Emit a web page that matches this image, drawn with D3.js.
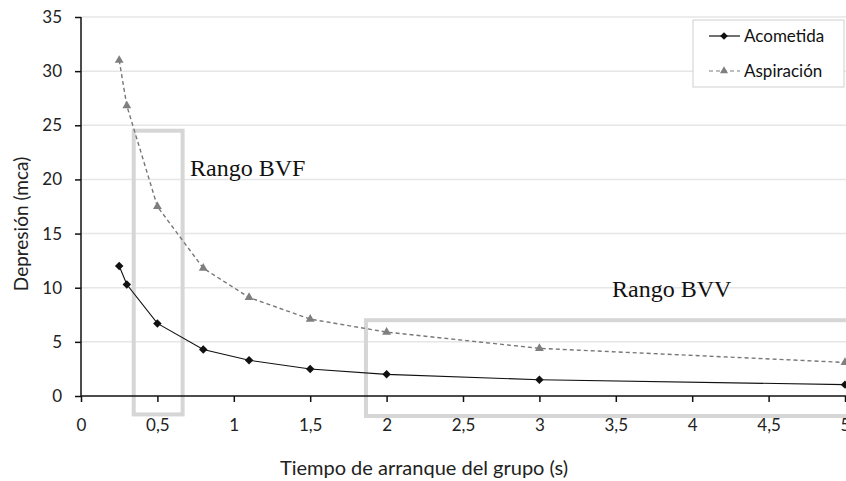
<!DOCTYPE html>
<html>
<head>
<meta charset="utf-8">
<script src="https://cdn.jsdelivr.net/npm/d3@7"></script>
<style>
  body { margin: 0; background: #fff; }
  svg text { font-family: Lato, "Open Sans", sans-serif; }
</style>
</head>
<body>
<div id="chart"></div>
<script>
var tiempo = [0.25, 0.3, 0.5, 0.8, 1.1, 1.5, 2, 3, 5]
var acometida = [12, 10.3, 6.7, 4.3, 3.3, 2.5, 2.0, 1.5, 1.05]
var aspiracion = [31, 26.8, 17.5, 11.8, 9.1, 7.1, 5.9, 4.4, 3.1]
var xTicks = [0, 0.5, 1, 1.5, 2, 2.5, 3, 3.5, 4, 4.5, 5]
var yTicks = [0, 5, 10, 15, 20, 25, 30, 35]
var seriesNames = ['Acometida', 'Aspiración']

var width = 846,
    height = 481
var x0 = 81, x1 = 845, y0 = 396, y1 = 17

var svg = d3.select('#chart').append('svg')
    .attr('width', width)
    .attr('height', height)

var x = d3.scaleLinear().domain([0, 5]).range([x0, x1])
var y = d3.scaleLinear().domain([0, 35]).range([y0, y1])
var fmt = function(d) { return String(d).replace('.', ',') }
var diamond = {
    draw: function(ctx, size) {
        var r = Math.sqrt(size / 2)
        ctx.moveTo(0, -r); ctx.lineTo(r, 0); ctx.lineTo(0, r); ctx.lineTo(-r, 0); ctx.closePath()
    }
}

// grid
svg.append('g').selectAll('line')
    .data(yTicks.slice(1))
    .enter().append('line')
    .attr('x1', x0).attr('x2', width)
    .attr('y1', function(d) { return y(d) })
    .attr('y2', function(d) { return y(d) })
    .style('stroke', '#e6e6e6')
    .style('stroke-width', 1.5)

// range boxes (annotations)
svg.append('rect')
    .attr('x', x(0.345)).attr('y', y(24.5))
    .attr('width', x(0.665) - x(0.345))
    .attr('height', y(-1.7) - y(24.5))
    .style('fill', 'none').style('stroke', '#d6d6d6').style('stroke-width', 4)
svg.append('rect')
    .attr('x', x(1.865)).attr('y', y(7.0))
    .attr('width', x(5.2) - x(1.865))
    .attr('height', y(-1.85) - y(7.0))
    .style('fill', 'none').style('stroke', '#d6d6d6').style('stroke-width', 4)

svg.append('text').text('Rango BVF')
    .attr('x', 190).attr('y', 176)
    .style('font-family', '"Liberation Serif", "Times New Roman", serif')
    .style('font-size', '24px').style('fill', '#111')
svg.append('text').text('Rango BVV')
    .attr('x', 612).attr('y', 297)
    .style('font-family', '"Liberation Serif", "Times New Roman", serif')
    .style('font-size', '24px').style('fill', '#111')

// axes
var xAxis = svg.append('g')
    .attr('transform', 'translate(0,' + y0 + ')')
    .call(d3.axisBottom(x).tickValues(xTicks).tickFormat(fmt).tickSize(6).tickPadding(17))
var yAxis = svg.append('g')
    .attr('transform', 'translate(' + x0 + ',0)')
    .call(d3.axisLeft(y).tickValues(yTicks).tickSize(6).tickPadding(13))
xAxis.select('.domain').attr('d', 'M' + x0 + ',0H' + width)
yAxis.select('.domain').attr('d', 'M0,' + y0 + 'V' + y1)
svg.selectAll('.domain, .tick line').style('stroke', '#111').style('stroke-width', 1.5)
svg.selectAll('.tick text').style('font-size', '17px').style('fill', '#222')
svg.selectAll('.tick text').style('font-family', 'Lato, sans-serif')
xAxis.selectAll('.tick').filter(function(d) { return d === 5 }).select('text')
    .attr('text-anchor', 'start').attr('dx', '-0.3em')

svg.append('text').text('Tiempo de arranque del grupo (s)')
    .attr('x', 424).attr('y', 475)
    .attr('text-anchor', 'middle')
    .style('font-size', '20px').style('fill', '#222')
svg.append('text').text('Depresión (mca)')
    .attr('transform', 'translate(28,224) rotate(-90)')
    .attr('text-anchor', 'middle')
    .style('font-size', '19px').style('fill', '#222')

// series
var line = d3.line()
    .x(function(d) { return x(d[0]) })
    .y(function(d) { return y(d[1]) })

var acoPts = d3.zip(tiempo, acometida)
var aspPts = d3.zip(tiempo, aspiracion)

svg.append('path').datum(aspPts)
    .attr('d', line)
    .style('fill', 'none').style('stroke', '#777')
    .style('stroke-width', 1.4).style('stroke-dasharray', '4,3')
svg.append('g').selectAll('path')
    .data(aspPts).enter().append('path')
    .attr('d', d3.symbol().type(d3.symbolTriangle).size(34))
    .attr('transform', function(d) { return 'translate(' + x(d[0]) + ',' + y(d[1]) + ')' })
    .style('fill', '#7f7f7f')

svg.append('path').datum(acoPts)
    .attr('d', line)
    .style('fill', 'none').style('stroke', '#111')
    .style('stroke-width', 1.1)
svg.append('g').selectAll('path')
    .data(acoPts).enter().append('path')
    .attr('d', d3.symbol().type(diamond).size(36))
    .attr('transform', function(d) { return 'translate(' + x(d[0]) + ',' + y(d[1]) + ')' })
    .style('fill', '#111')

// legend
var legend = svg.append('g').attr('transform', 'translate(693,20)')
legend.append('rect')
    .attr('width', 151).attr('height', 67)
    .style('fill', '#fff').style('stroke', '#d0d0d0')
var items = legend.selectAll('g.item')
    .data(seriesNames).enter().append('g')
    .attr('class', 'item')
    .attr('transform', function(d, i) { return 'translate(0,' + (16 + i * 35) + ')' })
items.append('line')
    .attr('x1', 16).attr('x2', 47)
    .style('stroke', function(d, i) { return i ? '#7f7f7f' : '#111' })
    .style('stroke-width', 1.2)
    .style('stroke-dasharray', function(d, i) { return i ? '4,3' : null })
items.append('path')
    .attr('d', function(d, i) {
        return d3.symbol().type(i ? d3.symbolTriangle : diamond).size(i ? 28 : 30)()
    })
    .attr('transform', 'translate(31,0)')
    .style('fill', function(d, i) { return i ? '#7f7f7f' : '#111' })
items.append('text').text(function(d) { return d })
    .attr('x', 51).attr('dy', '0.35em')
    .style('font-size', '17px').style('fill', '#111')
</script>
</body>
</html>
